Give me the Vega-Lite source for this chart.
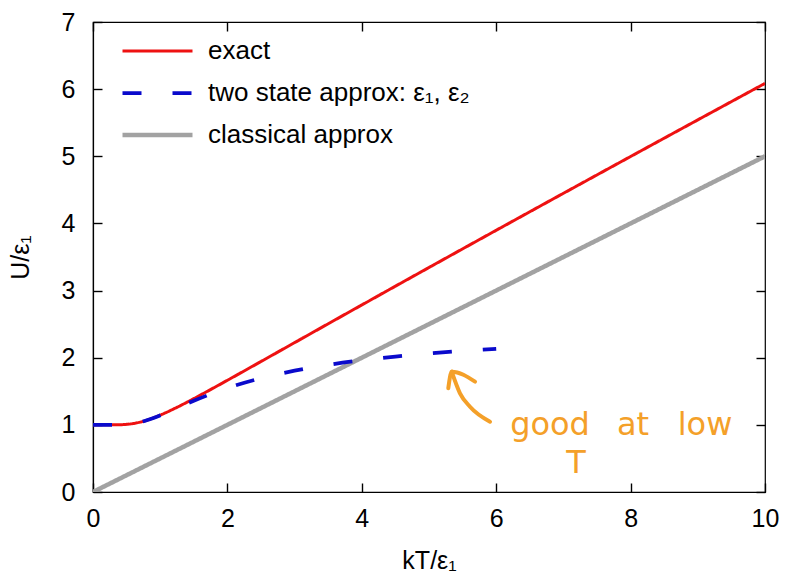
{
  "$schema": "https://vega.github.io/schema/vega-lite/v6.json",
  "width": 672,
  "height": 470,
  "autosize": {"type": "none"},
  "padding": {"left": 93, "top": 22, "right": 21, "bottom": 84},
  "background": "white",
  "config": {
    "view": {"stroke": "#000", "strokeWidth": 1.2},
    "font": "Liberation Sans",
    "axis": {
      "grid": false,
      "domainColor": "#000",
      "tickColor": "#000",
      "labelColor": "#000",
      "titleColor": "#000",
      "labelFont": "Liberation Sans",
      "titleFont": "Liberation Sans",
      "labelFontSize": 25,
      "titleFontSize": 25,
      "titleFontWeight": "normal",
      "labelFlush": false,
      "ticks": true,
      "tickSize": -9,
      "tickWidth": 1.4,
      "tickOpacity": 1,
      "domainWidth": 1.2
    }
  },
  "datasets": {
    "curves": [
      {"series": "classical approx", "t": 0, "u": 0},
      {"series": "classical approx", "t": 10, "u": 5},
      {"series": "exact", "t": 0, "u": 1},
      {"series": "exact", "t": 0.2, "u": 1},
      {"series": "exact", "t": 0.3, "u": 1.0001},
      {"series": "exact", "t": 0.4, "u": 1.0017},
      {"series": "exact", "t": 0.5, "u": 1.0074},
      {"series": "exact", "t": 0.6, "u": 1.0201},
      {"series": "exact", "t": 0.7, "u": 1.0408},
      {"series": "exact", "t": 0.8, "u": 1.0693},
      {"series": "exact", "t": 0.9, "u": 1.1044},
      {"series": "exact", "t": 1.0, "u": 1.1448},
      {"series": "exact", "t": 1.25, "u": 1.2614},
      {"series": "exact", "t": 1.5, "u": 1.3906},
      {"series": "exact", "t": 1.75, "u": 1.5257},
      {"series": "exact", "t": 2, "u": 1.6637},
      {"series": "exact", "t": 2.5, "u": 1.9435},
      {"series": "exact", "t": 3, "u": 2.2247},
      {"series": "exact", "t": 3.5, "u": 2.5056},
      {"series": "exact", "t": 4, "u": 2.7859},
      {"series": "exact", "t": 5, "u": 3.3437},
      {"series": "exact", "t": 6, "u": 3.8978},
      {"series": "exact", "t": 7, "u": 4.4486},
      {"series": "exact", "t": 8, "u": 4.9966},
      {"series": "exact", "t": 9, "u": 5.5423},
      {"series": "exact", "t": 10, "u": 6.0858},
      {"series": "two state approx: ε₁, ε₂", "t": 0, "u": 1},
      {"series": "two state approx: ε₁, ε₂", "t": 0.2, "u": 1},
      {"series": "two state approx: ε₁, ε₂", "t": 0.3, "u": 1.0001},
      {"series": "two state approx: ε₁, ε₂", "t": 0.4, "u": 1.0017},
      {"series": "two state approx: ε₁, ε₂", "t": 0.5, "u": 1.0074},
      {"series": "two state approx: ε₁, ε₂", "t": 0.6, "u": 1.0201},
      {"series": "two state approx: ε₁, ε₂", "t": 0.7, "u": 1.0407},
      {"series": "two state approx: ε₁, ε₂", "t": 0.8, "u": 1.0689},
      {"series": "two state approx: ε₁, ε₂", "t": 0.9, "u": 1.1033},
      {"series": "two state approx: ε₁, ε₂", "t": 1.0, "u": 1.1423},
      {"series": "two state approx: ε₁, ε₂", "t": 1.25, "u": 1.2495},
      {"series": "two state approx: ε₁, ε₂", "t": 1.5, "u": 1.3576},
      {"series": "two state approx: ε₁, ε₂", "t": 1.75, "u": 1.4578},
      {"series": "two state approx: ε₁, ε₂", "t": 2, "u": 1.5473},
      {"series": "two state approx: ε₁, ε₂", "t": 2.5, "u": 1.6944},
      {"series": "two state approx: ε₁, ε₂", "t": 3, "u": 1.8068},
      {"series": "two state approx: ε₁, ε₂", "t": 3.5, "u": 1.8938},
      {"series": "two state approx: ε₁, ε₂", "t": 4, "u": 1.9625},
      {"series": "two state approx: ε₁, ε₂", "t": 4.5, "u": 2.0177},
      {"series": "two state approx: ε₁, ε₂", "t": 5, "u": 2.0630},
      {"series": "two state approx: ε₁, ε₂", "t": 5.5, "u": 2.1007},
      {"series": "two state approx: ε₁, ε₂", "t": 6, "u": 2.1326}
    ],
    "arrow": [
      {"part": "shaft", "i": 0, "t": 5.908, "u": 1.047},
      {"part": "shaft", "i": 1, "t": 5.61, "u": 1.27},
      {"part": "shaft", "i": 2, "t": 5.461, "u": 1.47},
      {"part": "shaft", "i": 3, "t": 5.338, "u": 1.792},
      {"part": "head", "i": 0, "t": 5.287, "u": 1.544},
      {"part": "head", "i": 1, "t": 5.338, "u": 1.792},
      {"part": "head", "i": 2, "t": 5.685, "u": 1.643}
    ],
    "notes": [
      {"label": "good", "t": 6.801, "u": 0.849},
      {"label": "at", "t": 8.036, "u": 0.849},
      {"label": "low", "t": 9.107, "u": 0.849},
      {"label": "T", "t": 7.188, "u": 0.283}
    ]
  },
  "layer": [
    {
      "data": {"name": "curves"},
      "transform": [{"filter": "datum.series === 'classical approx'"}],
      "mark": {"type": "line", "clip": true},
      "encoding": {
        "x": {"field": "t", "type": "quantitative", "scale": {"domain": [0, 10], "nice": false},
          "axis": {"orient": "bottom", "values": [0, 2, 4, 6, 8, 10], "title": "kT/ε₁", "ticks": true, "tickSize": -9, "labelPadding": 23, "titleBaseline": "alphabetic", "titleY": 76}},
        "y": {"field": "u", "type": "quantitative", "scale": {"domain": [0, 7], "nice": false},
          "axis": {"orient": "left", "values": [0, 1, 2, 3, 4, 5, 6, 7], "title": "U/ε₁", "ticks": true, "tickSize": -9, "labelPadding": 27, "titleBaseline": "alphabetic", "titleAngle": -90, "titleX": -65, "titleY": 235}},
        "color": {"field": "series", "type": "nominal",
          "scale": {"domain": ["exact", "two state approx: ε₁, ε₂", "classical approx"], "range": ["#ee1111", "#0a0acc", "#a2a2a2"]},
          "legend": {"title": null, "orient": "none", "legendX": 27, "legendY": 19, "labelFontSize": 26, "labelFont": "Liberation Sans", "labelColor": "#000", "labelLimit": 500, "symbolType": "stroke", "symbolSize": 4900, "labelOffset": 13, "rowPadding": 16, "clipHeight": 20, "padding": 0}},
        "strokeDash": {"field": "series", "type": "nominal",
          "scale": {"domain": ["exact", "two state approx: ε₁, ε₂", "classical approx"], "range": [[1, 0], [19, 31], [1, 0]]}},
        "strokeWidth": {"field": "series", "type": "nominal",
          "scale": {"domain": ["exact", "two state approx: ε₁, ε₂", "classical approx"], "range": [3, 4.5, 6]}}
      }
    },
    {
      "data": {"name": "curves"},
      "transform": [{"filter": "datum.series === 'exact'"}],
      "mark": {"type": "line", "interpolate": "monotone", "clip": true},
      "encoding": {
        "x": {"field": "t", "type": "quantitative", "axis": {"orient": "top", "values": [0, 2, 4, 6, 8, 10], "ticks": true, "tickSize": -9, "labels": false, "title": null, "domain": false}},
        "y": {"field": "u", "type": "quantitative", "axis": {"orient": "right", "values": [0, 1, 2, 3, 4, 5, 6, 7], "ticks": true, "tickSize": -9, "labels": false, "title": null, "domain": false}},
        "color": {"field": "series", "type": "nominal"},
        "strokeDash": {"field": "series", "type": "nominal"},
        "strokeWidth": {"field": "series", "type": "nominal"}
      }
    },
    {
      "data": {"name": "curves"},
      "transform": [{"filter": "datum.series === 'two state approx: ε₁, ε₂'"}],
      "mark": {"type": "line", "interpolate": "monotone", "clip": true},
      "encoding": {
        "x": {"field": "t", "type": "quantitative", "axis": null},
        "y": {"field": "u", "type": "quantitative", "axis": null},
        "color": {"field": "series", "type": "nominal"},
        "strokeDash": {"field": "series", "type": "nominal"},
        "strokeWidth": {"field": "series", "type": "nominal"}
      }
    },
    {
      "data": {"name": "arrow"},
      "mark": {"type": "line", "interpolate": "monotone", "color": "#f4a029", "strokeWidth": 4, "strokeCap": "round", "strokeJoin": "round"},
      "encoding": {
        "x": {"field": "t", "type": "quantitative", "axis": null},
        "y": {"field": "u", "type": "quantitative", "axis": null},
        "detail": {"field": "part"},
        "order": {"field": "i"}
      }
    },
    {
      "data": {"name": "notes"},
      "mark": {"type": "text", "color": "#f4a029", "font": "DejaVu Sans", "fontSize": 32, "baseline": "alphabetic", "align": "center"},
      "encoding": {
        "x": {"field": "t", "type": "quantitative", "axis": null},
        "y": {"field": "u", "type": "quantitative", "axis": null},
        "text": {"field": "label"}
      }
    }
  ]
}
